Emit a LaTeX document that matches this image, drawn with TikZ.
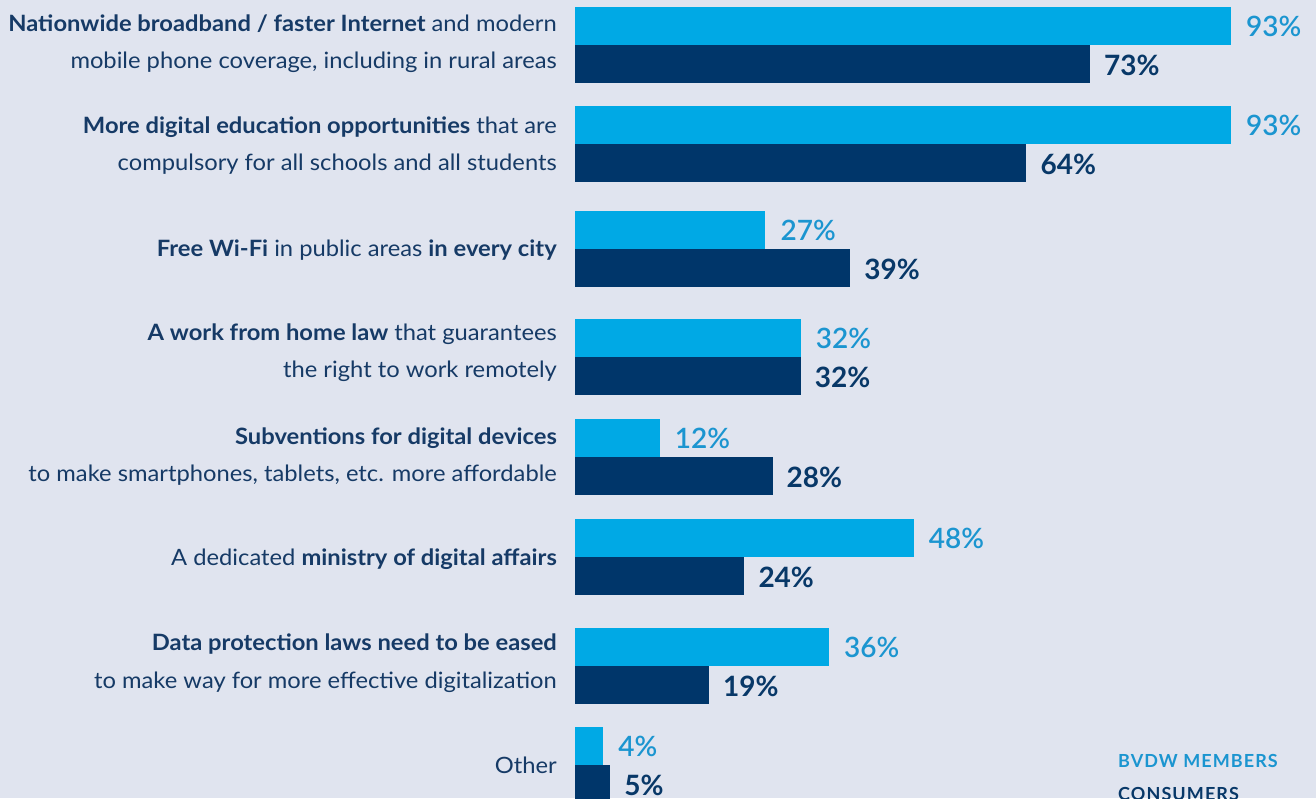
\documentclass[tikz,border=0pt]{standalone}
\usepackage{fontspec}
\setmainfont{Lato}
\newfontfamily\labfont[FakeStretch=1.055]{Lato}
\newfontfamily\valfont{Lato Semibold}
\newfontfamily\legendfont[LetterSpace=6]{Lato}
\usetikzlibrary{calc}
\definecolor{bgc}{RGB}{224,228,239}
\definecolor{lightbar}{RGB}{0,169,229}
\definecolor{darkbar}{RGB}{0,54,106}
\definecolor{lighttxt}{RGB}{27,149,208}
\definecolor{darktxt}{RGB}{8,56,104}
\definecolor{labc}{RGB}{22,58,102}
\tikzset{
  barnode/.style={inner sep=0pt, outer sep=0pt, minimum height=38pt, anchor=north west},
  lbar/.style={barnode, fill=lightbar},
  dbar/.style={barnode, fill=darkbar},
  lval/.style={anchor=base west, inner sep=0pt, text=lighttxt, font=\fontsize{28}{32}\selectfont\valfont},
  dval/.style={anchor=base west, inner sep=0pt, text=darktxt, font=\fontsize{28}{32}\selectfont\bfseries},
  lab/.style={anchor=base east, inner sep=0pt, text=labc, font=\fontsize{22.5}{26}\selectfont\labfont},
  legend/.style={anchor=base west, inner sep=0pt, font=\fontsize{18}{22}\selectfont\legendfont\bfseries},
}
\begin{document}
\begin{tikzpicture}[x=1pt,y=-1pt]
\useasboundingbox (0,0) rectangle (1316,798);
\clip (0,0) rectangle (1316,798);
\fill[bgc] (0,0) rectangle (1316,798);
\foreach \t/\a/\b [count=\i] in {7/93/73,106/93/64,211/27/39,319/32/32,419/12/28,519/48/24,628/36/19,727/4/5}{
  \node[lbar, minimum width={\a*7.054pt}] (l\i) at (575,\t) {};
  \node[dbar, minimum width={\b*7.054pt}] (d\i) at (575,\t+38) {};
  \node[lval] (lv\i) at ($(l\i.north east)+(15,29.5)$) {\a\%};
  \node[dval] (dv\i) at ($(d\i.north east)+(14,30)$) {\b\%};
}
\node[lab] (t1a) at (557,31) {\textbf{Nationwide broadband / faster Internet} and modern};
\node[lab] (t1b) at (557,68) {mobile phone coverage, including in rural areas};
\node[lab] (t2a) at (557,133) {\textbf{More digital education opportunities} that are};
\node[lab] (t2b) at (557,170) {compulsory for all schools and all students};
\node[lab] (t3a) at (557,256) {\textbf{Free Wi-Fi} in public areas \textbf{in every city}};
\node[lab] (t4a) at (557,340) {\textbf{A work from home law} that guarantees};
\node[lab] (t4b) at (557,377) {the right to work remotely};
\node[lab] (t5a) at (557,444) {\textbf{Subventions for digital devices}};
\node[lab] (t5b) at (557,481) {to make smartphones, tablets, etc. more affordable};
\node[lab] (t6a) at (557,565) {A dedicated \textbf{ministry of digital affairs}};
\node[lab] (t7a) at (557,650) {\textbf{Data protection laws need to be eased}};
\node[lab] (t7b) at (557,688) {to make way for more effective digitalization};
\node[lab] (t8a) at (557,773) {Other};
\node[legend, text=lighttxt] (leg1) at (1118,767) {BVDW MEMBERS};
\node[legend, text=darktxt] (leg2) at (1118,800) {CONSUMERS};
\end{tikzpicture}
\end{document}
